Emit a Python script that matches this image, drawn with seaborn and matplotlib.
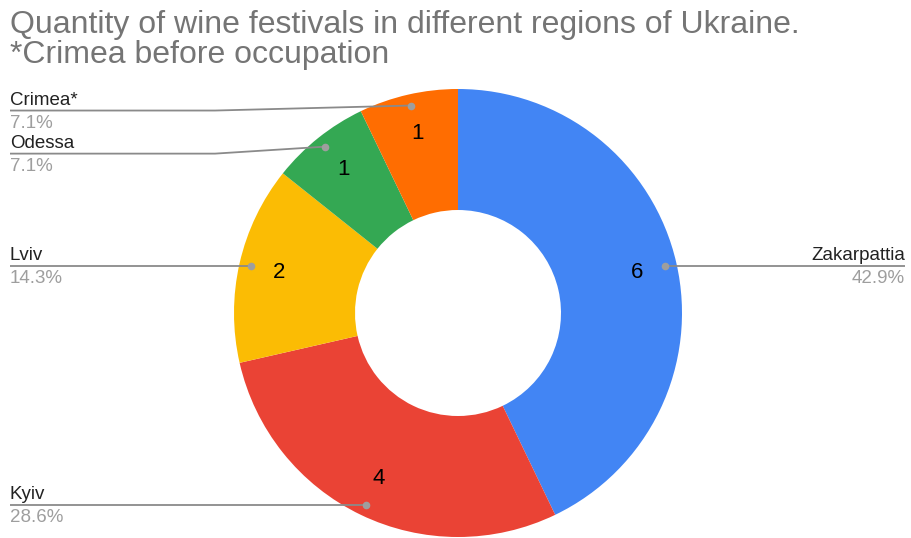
import numpy as np
import matplotlib
matplotlib.use("Agg")
import matplotlib.pyplot as plt
import seaborn as sns

# data
regions = ["Zakarpattia", "Kyiv", "Lviv", "Odessa", "Crimea*"]
festivals = [6, 4, 2, 1, 1]
colors = ["#4285F4", "#EA4335", "#FBBC04", "#34A853", "#FF6D01"]
title_lines = ["Quantity of wine festivals in different regions of Ukraine.",
               "*Crimea before occupation"]

sns.set_style("white")
plt.rcParams['font.family'] = ['Liberation Sans', 'DejaVu Sans']

W, H = 912, 538
fig = plt.figure(figsize=(W / 100, H / 100), dpi=100)
ax = fig.add_axes([0, 0, 1, 1])

# pixel layout (y measured from bottom)
cx, cy = 458, H - 313
R = 224
hole = 103
total = sum(festivals)

wedges, texts, autotexts = ax.pie(
    festivals, colors=colors, startangle=90, counterclock=False,
    center=(cx, cy), radius=R,
    wedgeprops=dict(width=R - hole, linewidth=0),
    autopct=lambda p: f"{round(p * total / 100)}", pctdistance=0.82,
    textprops=dict(fontsize=16, color="black"),
)
ax.set_xlim(0, W)
ax.set_ylim(0, H)
ax.set_aspect("equal")
ax.axis("off")

# label shift for the two crowded top-left labels (px, downwards)
shift = [0, 0, 0, 7, 5]
line_col = "#8a8a8a"
for w, name, val, s in zip(wedges, regions, festivals, shift):
    ang = np.deg2rad((w.theta1 + w.theta2) / 2)
    dx, dy = cx + 0.95 * R * np.cos(ang), cy + 0.95 * R * np.sin(ang)
    ly = dy - s
    pct = f"{100 * val / total:.1f}%"
    if np.cos(ang) < 0:
        xs = [10, 215, dx] if s else [10, dx]
        ys = [ly, ly, dy] if s else [ly, dy]
        tx, ha = 10, "left"
    else:
        xs, ys = [dx, 905], [dy, ly]
        tx, ha = 905, "right"
    ax.plot(xs, ys, color=line_col, lw=1.3, solid_capstyle="butt")
    ax.plot(dx, dy, "o", color="#9e9e9e", ms=5.5, mec="none")
    ax.text(tx, ly + 6, name, ha=ha, va="baseline", fontsize=13.5, color="#222222")
    ax.text(tx, ly - 4, pct, ha=ha, va="top", fontsize=13.5, color="#9e9e9e")

for i, line in enumerate(title_lines):
    fig.text(10 / W, 1 - (33 + 30 * i) / H, line, ha="left", va="baseline",
             fontsize=23, color="#757575")

fig.savefig("out.png", dpi=100)
